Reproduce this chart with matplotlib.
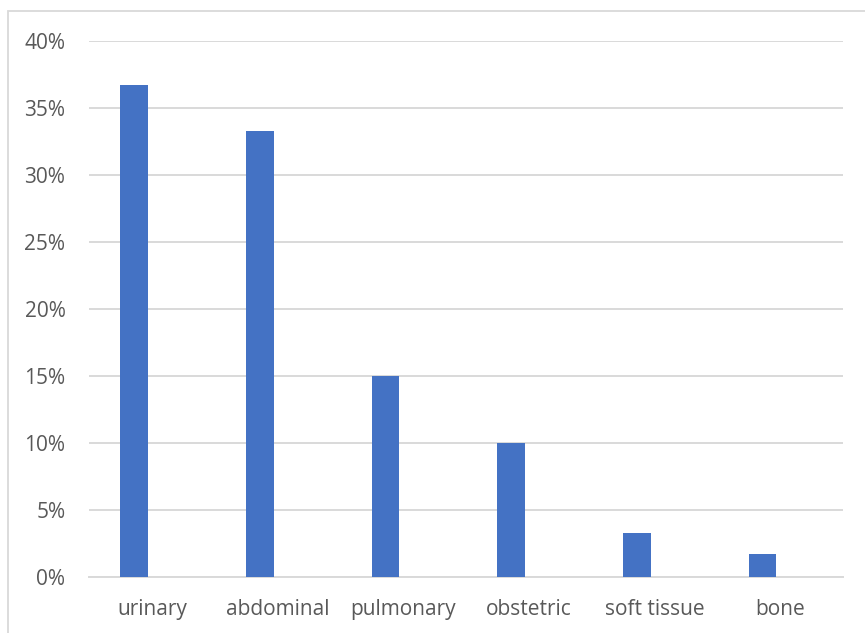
import numpy as np
import matplotlib.pyplot as plt
from matplotlib.patches import Rectangle
from matplotlib.ticker import FuncFormatter, MultipleLocator

categories = ["urinary", "abdominal", "pulmonary", "obstetric", "soft tissue", "bone"]
shares = [36.7, 33.3, 15.0, 10.0, 3.3, 1.7]  # percent of cases

BAR_COLOR = "#4472C4"
TEXT_COLOR = "#595959"
GRID_COLOR = "#D9D9D9"

plt.rcParams["font.family"] = ["Open Sans", "DejaVu Sans"]

fig = plt.figure(figsize=(8.65, 6.33), dpi=100)
ax = fig.add_axes([89 / 865, 1 - 577 / 633, 754 / 865, 536 / 633])

x = np.arange(len(categories))
# bars sit in the left slot of each category, as in a clustered column chart
ax.bar(x - 0.14, shares, width=0.22, color=BAR_COLOR, zorder=3)

ax.set_xlim(-0.5, len(categories) - 0.5)
ax.set_ylim(0, 40)
ax.yaxis.set_major_locator(MultipleLocator(5))
ax.yaxis.set_major_formatter(FuncFormatter(lambda v, _: f"{v:.0f}%"))
ax.set_xticks(x)
ax.set_xticklabels(categories)

ax.grid(axis="y", color=GRID_COLOR, linewidth=1.4, zorder=0)
for side in ["top", "right", "left"]:
    ax.spines[side].set_visible(False)
ax.spines["bottom"].set_color(GRID_COLOR)
ax.spines["bottom"].set_linewidth(1.4)

ax.tick_params(axis="both", length=0, labelsize=15, colors=TEXT_COLOR)
ax.tick_params(axis="y", pad=17)
ax.tick_params(axis="x", pad=16)

# chart frame, running off the right and bottom edges
fig.patches.append(
    Rectangle((8 / 865, -0.05), 1.1, 1 - 11 / 633 + 0.05,
              transform=fig.transFigure, fill=False,
              edgecolor=GRID_COLOR, linewidth=1.3)
)

fig.savefig("out.png", dpi=100)
